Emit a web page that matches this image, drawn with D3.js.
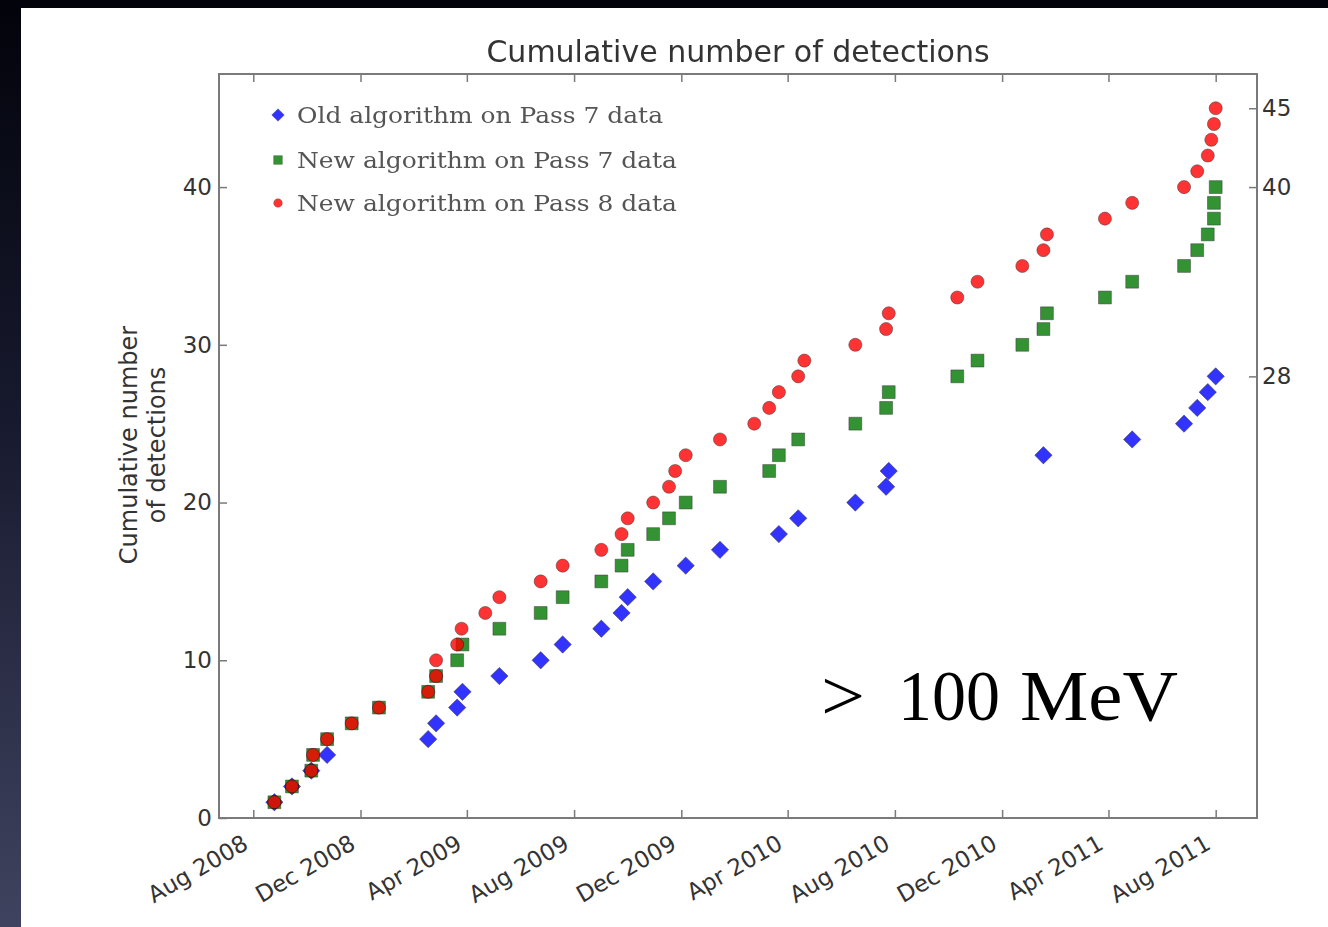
<!DOCTYPE html>
<html>
<head>
<meta charset="utf-8">
<script src="https://cdn.jsdelivr.net/npm/d3@7"></script>
<style>
  body { margin: 0; background: #000; }
  svg { display: block; }
</style>
</head>
<body>
<svg id="chart" width="1328" height="927"></svg>
<script>
// ---------------- DATA ----------------
const titleText = "Cumulative number of detections";
const yLabelLines = ["Cumulative number", "of detections"];
const energyLabel = [">", "100", "MeV"];

const seriesNames = [
  "Old algorithm on Pass 7 data",
  "New algorithm on Pass 7 data",
  "New algorithm on Pass 8 data"
];

const oldP7Dates = [
  "2008-08-25","2008-09-14","2008-10-06","2008-10-24","2009-02-16","2009-02-25",
  "2009-03-21","2009-03-27","2009-05-08","2009-06-24","2009-07-19","2009-09-01",
  "2009-09-24","2009-10-01","2009-10-30","2009-12-06","2010-01-14","2010-03-22",
  "2010-04-13","2010-06-17","2010-07-22","2010-07-25","2011-01-17","2011-04-28",
  "2011-06-26","2011-07-11","2011-07-23","2011-08-01"
];
const oldP7Counts = [1,2,3,4,5,6,7,8,9,10,11,12,13,14,15,16,17,18,19,20,21,22,23,24,25,26,27,28];

const newP7Dates = [
  "2008-08-25","2008-09-14","2008-10-06","2008-10-08","2008-10-24","2008-11-21",
  "2008-12-22","2009-02-16","2009-02-25","2009-03-21","2009-03-27","2009-05-08",
  "2009-06-24","2009-07-19","2009-09-01","2009-09-24","2009-10-01","2009-10-30",
  "2009-11-17","2009-12-06","2010-01-14","2010-03-11","2010-03-22","2010-04-13",
  "2010-06-17","2010-07-22","2010-07-25","2010-10-11","2010-11-03","2010-12-24",
  "2011-01-17","2011-01-21","2011-03-28","2011-04-28","2011-06-26","2011-07-11",
  "2011-07-23","2011-07-30","2011-07-30","2011-08-01"
];
const newP7Counts = [1,2,3,4,5,6,7,8,9,10,11,12,13,14,15,16,17,18,19,20,21,22,23,24,25,26,27,28,29,30,31,32,33,34,35,36,37,38,39,40];

const newP8Dates = [
  "2008-08-25","2008-09-14","2008-10-06","2008-10-08","2008-10-24","2008-11-21",
  "2008-12-22","2009-02-16","2009-02-25","2009-02-25","2009-03-21","2009-03-26",
  "2009-04-22","2009-05-08","2009-06-24","2009-07-19","2009-09-01","2009-09-24",
  "2009-10-01","2009-10-30","2009-11-17","2009-11-24","2009-12-06","2010-01-14",
  "2010-02-22","2010-03-11","2010-03-22","2010-04-13","2010-04-20","2010-06-17",
  "2010-07-22","2010-07-25","2010-10-11","2010-11-03","2010-12-24","2011-01-17",
  "2011-01-21","2011-03-28","2011-04-28","2011-06-26","2011-07-11","2011-07-23",
  "2011-07-27","2011-07-30","2011-08-01"
];
const newP8Counts = [1,2,3,4,5,6,7,8,9,10,11,12,13,14,15,16,17,18,19,20,21,22,23,24,25,26,27,28,29,30,31,32,33,34,35,36,37,38,39,40,41,42,43,44,45];

const xTickDates = ["2008-08-01","2008-12-01","2009-04-01","2009-08-01","2009-12-01",
                    "2010-04-01","2010-08-01","2010-12-01","2011-04-01","2011-08-01"];
const leftTicks = [0, 10, 20, 30, 40];
const rightTicks = [28, 40, 45];
const xDomain = ["2008-06-23", "2011-09-17"];
const yDomain = [0, 47.17];

// ---------------- CHART ----------------
const parse = d3.timeParse("%Y-%m-%d");
const svg = d3.select("#chart");
const W = 1328, H = 927;
const plot = { left: 219, right: 1257, top: 74, bottom: 818 };

// background (presentation slide look)
const defs = svg.append("defs");
const grad = defs.append("linearGradient").attr("id", "bg").attr("x1", 0).attr("y1", 0).attr("x2", 0).attr("y2", 1);
grad.append("stop").attr("offset", "0%").attr("stop-color", "#02030a");
grad.append("stop").attr("offset", "45%").attr("stop-color", "#171a2e");
grad.append("stop").attr("offset", "100%").attr("stop-color", "#40435f");
svg.append("rect").attr("width", W).attr("height", H).attr("fill", "url(#bg)");
svg.append("rect").attr("x", 21).attr("y", 8).attr("width", W - 21).attr("height", H - 8).attr("fill", "#fff");

const x = d3.scaleTime().domain(xDomain.map(parse)).range([plot.left, plot.right]);
const y = d3.scaleLinear().domain(yDomain).range([plot.bottom, plot.top]);

const axisColor = "#7a7a7a";
const tickFont = "'DejaVu Sans', Verdana, sans-serif";

function styleAxis(g) {
  g.select(".domain").remove();
  g.selectAll(".tick line").attr("stroke", axisColor).attr("stroke-width", 1.5);
  g.selectAll(".tick text").attr("fill", "#333").style("font-family", tickFont).style("font-size", "23px");
}

const tickDates = xTickDates.map(parse);

// bottom axis
const gx = svg.append("g").attr("transform", `translate(0,${plot.bottom})`)
  .call(d3.axisBottom(x).tickValues(tickDates).tickSize(-8).tickSizeOuter(0)
        .tickFormat(d3.timeFormat("%b %Y")));
styleAxis(gx);
gx.selectAll(".tick text")
  .attr("y", 0).attr("dy", 0).attr("x", 0)
  .attr("text-anchor", "end")
  .attr("transform", "translate(-4,30) rotate(-30)");

// top axis (ticks only)
const gxt = svg.append("g").attr("transform", `translate(0,${plot.top})`)
  .call(d3.axisTop(x).tickValues(tickDates).tickSize(-8).tickSizeOuter(0).tickFormat(""));
styleAxis(gxt);

// left axis
const gy = svg.append("g").attr("transform", `translate(${plot.left},0)`)
  .call(d3.axisLeft(y).tickValues(leftTicks).tickSize(-8).tickSizeOuter(0).tickPadding(7).tickFormat(d3.format("d")));
styleAxis(gy);

// right axis
const gyr = svg.append("g").attr("transform", `translate(${plot.right},0)`)
  .call(d3.axisRight(y).tickValues(rightTicks).tickSize(-8).tickSizeOuter(0).tickPadding(5).tickFormat(d3.format("d")));
styleAxis(gyr);

// series
const series = [
  { name: seriesNames[0], dates: oldP7Dates, counts: oldP7Counts, type: d3.symbolSquare, size: 150, rot: 45, fill: "#0000ff", lsize: 80 },
  { name: seriesNames[1], dates: newP7Dates, counts: newP7Counts, type: d3.symbolSquare, size: 165, rot: 0, fill: "#007800", lsize: 78 },
  { name: seriesNames[2], dates: newP8Dates, counts: newP8Counts, type: d3.symbolCircle, size: 135, rot: 0, fill: "#ff0000", lsize: 60 }
];

series.forEach(s => {
  const pts = s.dates.map((d, i) => ({ date: parse(d), v: s.counts[i] }));
  svg.append("g").attr("opacity", 0.8)
    .selectAll("path").data(pts).join("path")
    .attr("d", d3.symbol().type(s.type).size(s.size)())
    .attr("transform", d => `translate(${x(d.date)},${y(d.v)}) rotate(${s.rot})`)
    .attr("fill", s.fill)
    .attr("stroke", "#000").attr("stroke-width", 0.8).attr("stroke-opacity", 0.6);
});

// frame
svg.append("rect")
  .attr("x", plot.left).attr("y", plot.top)
  .attr("width", plot.right - plot.left).attr("height", plot.bottom - plot.top)
  .attr("fill", "none").attr("stroke", axisColor).attr("stroke-width", 2);

// title
svg.append("text")
  .attr("x", (plot.left + plot.right) / 2).attr("y", 62)
  .attr("text-anchor", "middle")
  .style("font-family", tickFont).style("font-size", "30px").attr("fill", "#333")
  .text(titleText);

// y label
const yl = svg.append("text")
  .attr("transform", "translate(137,445) rotate(-90)")
  .attr("text-anchor", "middle")
  .style("font-family", tickFont).style("font-size", "24px").attr("fill", "#333");
yl.append("tspan").attr("x", 0).attr("y", 0).text(yLabelLines[0]);
yl.append("tspan").attr("x", 0).attr("y", 28).text(yLabelLines[1]);

// legend
const legendY = [115, 160, 203];
const legendLen = [366, 380, 380];
series.forEach((s, i) => {
  svg.append("path")
    .attr("d", d3.symbol().type(s.type).size(s.lsize)())
    .attr("transform", `translate(278,${legendY[i]}) rotate(${s.rot})`)
    .attr("fill", s.fill).attr("opacity", 0.8)
    .attr("stroke", "#000").attr("stroke-width", 0.5).attr("stroke-opacity", 0.5);
  svg.append("text")
    .attr("x", 297).attr("y", legendY[i] + 8)
    .attr("textLength", legendLen[i]).attr("lengthAdjust", "spacingAndGlyphs")
    .style("font-family", "'DejaVu Serif', serif").style("font-size", "23px")
    .attr("fill", "#555")
    .text(s.name);
});

// energy annotation
const eFont = "'Liberation Serif', 'Times New Roman', serif";
svg.append("text").attr("x", 821).attr("y", 720).attr("textLength", 44).attr("lengthAdjust", "spacingAndGlyphs")
  .style("font-family", eFont).style("font-size", "72px").attr("fill", "#000").text(energyLabel[0]);
svg.append("text").attr("x", 898).attr("y", 720).attr("textLength", 102).attr("lengthAdjust", "spacingAndGlyphs")
  .style("font-family", eFont).style("font-size", "72px").attr("fill", "#000").text(energyLabel[1]);
svg.append("text").attr("x", 1020).attr("y", 720).attr("textLength", 158).attr("lengthAdjust", "spacingAndGlyphs")
  .style("font-family", eFont).style("font-size", "72px").attr("fill", "#000").text(energyLabel[2]);
</script>
</body>
</html>
